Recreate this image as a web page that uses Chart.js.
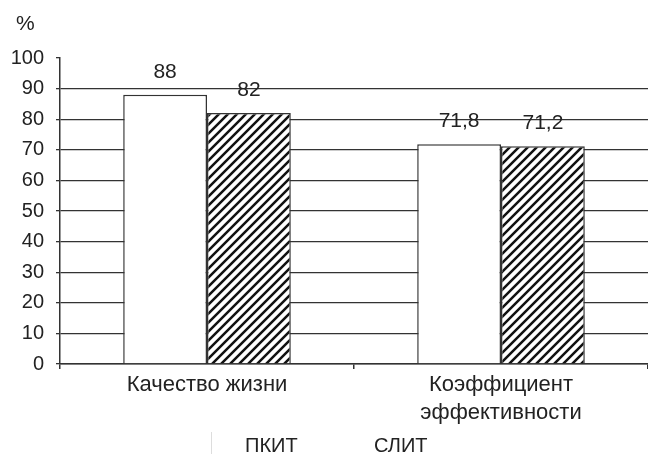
<!DOCTYPE html>
<html>
<head>
<meta charset="utf-8">
<script src="https://cdn.jsdelivr.net/npm/chart.js@4/dist/chart.umd.min.js"></script>
<style>
  html, body { margin: 0; padding: 0; background: #fff; }
  #wrap { width: 648px; height: 454px; }
</style>
</head>
<body>
<div id="wrap"><canvas id="c" width="648" height="454"></canvas></div>
<script>
const categories = ['Качество жизни', ['Коэффициент', 'эффективности']];
const seriesNames = ['ПКИТ', 'СЛИТ'];
const pkitValues = [88, 71.8];
const slitValues = [82, 71.2];
const yTicks = [0, 10, 20, 30, 40, 50, 60, 70, 80, 90, 100];

const FONT = '"Liberation Sans", Arial, Helvetica, sans-serif';
const INK = '#222';
const LINE = '#333';

// diagonal "/" hatching for the second series
function makeHatch() {
  const s = 9;
  const t = document.createElement('canvas');
  t.width = s; t.height = s;
  const g = t.getContext('2d');
  g.fillStyle = '#fff';
  g.fillRect(0, 0, s, s);
  g.strokeStyle = '#111';
  g.lineWidth = 2.5;
  g.beginPath();
  g.moveTo(-1, s + 1); g.lineTo(s + 1, -1);
  g.moveTo(-1, 1); g.lineTo(1, -1);
  g.moveTo(s - 1, s + 1); g.lineTo(s + 1, s - 1);
  g.stroke();
  return document.getElementById('c').getContext('2d').createPattern(t, 'repeat');
}

const fmt = v => String(v).replace('.', ',');

// value labels above each bar
const valueLabels = {
  id: 'valueLabels',
  afterDatasetsDraw(chart) {
    const ctx = chart.ctx;
    ctx.save();
    ctx.font = '21px ' + FONT;
    ctx.fillStyle = INK;
    ctx.textAlign = 'center';
    ctx.textBaseline = 'middle';
    chart.data.datasets.forEach((ds, i) => {
      chart.getDatasetMeta(i).data.forEach((bar, j) => {
        ctx.fillText(fmt(ds.data[j]), bar.x, bar.y - 23);
      });
    });
    ctx.restore();
  }
};

// unit caption and series names under the axis
const extras = {
  id: 'extras',
  afterDraw(chart) {
    const ctx = chart.ctx;
    ctx.save();
    ctx.font = '21px ' + FONT;
    ctx.fillStyle = INK;
    ctx.textAlign = 'left';
    ctx.textBaseline = 'middle';
    ctx.fillText('%', 16, 24);
    ctx.font = '20px ' + FONT;
    const xs = [245, 374];
    chart.data.datasets.forEach((ds, i) => {
      ctx.fillText(ds.label, xs[i], 446);
    });
    ctx.strokeStyle = '#ddd';
    ctx.lineWidth = 1;
    ctx.beginPath();
    ctx.moveTo(211.5, 432); ctx.lineTo(211.5, 454);
    ctx.stroke();
    ctx.restore();
  }
};

new Chart(document.getElementById('c'), {
  type: 'bar',
  data: {
    labels: categories,
    datasets: [
      {
        label: seriesNames[0],
        data: pkitValues,
        backgroundColor: '#fff',
        borderColor: LINE,
        borderWidth: 1.5
      },
      {
        label: seriesNames[1],
        data: slitValues,
        backgroundColor: makeHatch(),
        borderColor: LINE,
        borderWidth: 1.5
      }
    ]
  },
  options: {
    responsive: false,
    animation: false,
    layout: { padding: { top: 58, right: 0, bottom: 0, left: 0 } },
    datasets: { bar: { categoryPercentage: 0.57, barPercentage: 1.0 } },
    plugins: {
      legend: { display: false },
      tooltip: { enabled: false }
    },
    scales: {
      x: {
        offset: true,
        afterFit(s) { s.height = 90; },
        border: { display: true, color: LINE, width: 1.5 },
        grid: {
          offset: true,
          drawOnChartArea: false,
          drawTicks: true,
          tickLength: 5,
          color: LINE,
          lineWidth: 1.5
        },
        ticks: {
          color: INK,
          font: { family: FONT, size: 22, lineHeight: 1.27 },
          padding: 2,
          maxRotation: 0
        }
      },
      y: {
        min: 0,
        max: 100,
        afterFit(s) { s.width = 60; },
        afterBuildTicks(s) { s.ticks = yTicks.map(v => ({ value: v })); },
        border: { display: true, color: LINE, width: 1.5 },
        grid: {
          color: ctx => (ctx.tick && ctx.tick.value === 100) ? 'rgba(0,0,0,0)' : LINE,
          tickColor: LINE,
          lineWidth: 1.3,
          drawTicks: true,
          tickLength: 4
        },
        ticks: {
          color: INK,
          font: { family: FONT, size: 20 },
          padding: 12
        }
      }
    }
  },
  plugins: [valueLabels, extras]
});
</script>
</body>
</html>
